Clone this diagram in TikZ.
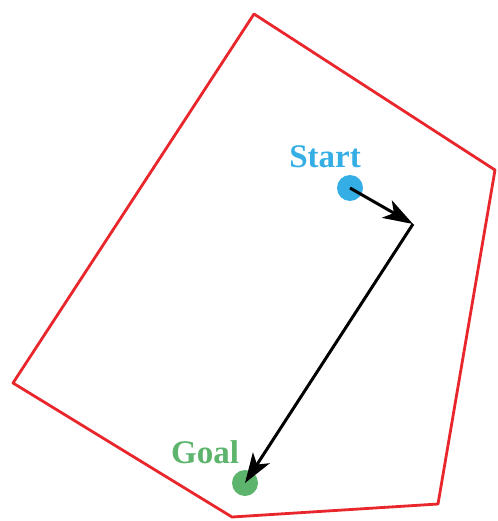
\documentclass[tikz,border=0pt]{standalone}
\usepackage{fontspec}
\setmainfont{Liberation Serif}
\usetikzlibrary{arrows.meta}
\definecolor{bound}{HTML}{E8262B}
\definecolor{startc}{HTML}{35AEE6}
\definecolor{goalc}{HTML}{5DB46C}
\tikzset{
  pt/.style={circle, inner sep=0pt, minimum size=26pt},
  lbl/.style={font=\fontsize{33}{36}\selectfont\bfseries, inner sep=0pt},
  pathline/.style={line width=3pt, -{Stealth[length=30pt, width=20pt, inset=8pt]}}
}
\begin{document}
\begin{tikzpicture}[x=1pt, y=-1pt]
\useasboundingbox (0,0) rectangle (497,521);
\draw[bound, line width=2.8pt, line join=round]
  (254,14) -- (495,170) -- (438,504) -- (232,517) -- (13,383) -- cycle;
\node[pt, fill=startc] (start) at (350,188) {};
\node[pt, fill=goalc] (goal) at (245,483) {};
\node[lbl, text=startc] (startlbl) at (325,157) {Start};
\node[lbl, text=goalc] (goallbl) at (205,452) {Goal};
\coordinate (turn) at (413,224);
\draw[pathline] (start.center) -- (turn);
\draw[pathline] (turn) -- (goal.center);
\end{tikzpicture}
\end{document}
